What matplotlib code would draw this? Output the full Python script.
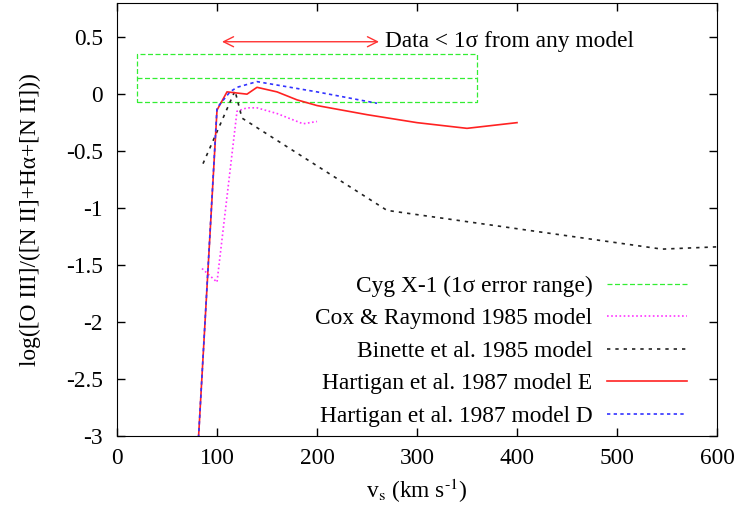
import numpy as np
import matplotlib
matplotlib.use("Agg")
import matplotlib.pyplot as plt

# data (v_s in km/s, log ratio)
cyg_v = [20, 360]
cyg_mid = 0.14
cyg_lo = -0.07
cyg_hi = 0.35

cox_v = [85, 100, 120, 130, 140, 160, 186, 200]
cox_y = [-1.53, -1.65, -0.15, -0.12, -0.12, -0.17, -0.26, -0.24]

bin_v = [86, 118, 125, 270, 545, 600]
bin_y = [-0.61, 0.03, -0.21, -1.02, -1.36, -1.34]

hartE_v = [80, 100, 110, 120, 130, 140, 160, 180, 200, 250, 300, 350, 400]
hartE_y = [-3.25, -0.14, 0.02, 0.01, 0.0, 0.06, 0.02, -0.05, -0.10, -0.18, -0.25, -0.30, -0.25]

hartD_v = [80, 100, 113, 120, 140, 160, 200, 260]
hartD_y = [-3.25, -0.12, 0.02, 0.06, 0.11, 0.08, 0.02, -0.08]

arrow_v = [105, 262]
arrow_y = 0.46

plt.rcParams['font.family'] = ['Liberation Serif', 'DejaVu Serif']
plt.rcParams['mathtext.fontset'] = 'stix'
plt.rcParams['font.size'] = 16.8

fig = plt.figure(figsize=(7.39, 5.16), dpi=100)
ax = fig.add_axes([117/739, 1 - 436/516, 600/739, 433/516])

# Cyg X-1 1 sigma box
ax.plot([cyg_v[0], cyg_v[1], cyg_v[1], cyg_v[0], cyg_v[0]],
        [cyg_lo, cyg_lo, cyg_hi, cyg_hi, cyg_lo],
        color='#33ee33', lw=0.9, ls=(0, (4, 2)), label='Cyg X-1 (1σ error range)')
ax.plot(cyg_v, [cyg_mid, cyg_mid], color='#33ee33', lw=0.9, ls=(0, (4, 2)))

ax.plot(cox_v, cox_y, color='#ff33ff', lw=1.2, ls=(0, (1, 1.5)), label='Cox & Raymond 1985 model')
ax.plot(bin_v, bin_y, color='#222222', lw=1.2, ls=(0, (2, 3)), label='Binette et al. 1985 model')
ax.plot(hartE_v, hartE_y, color='#ff2222', lw=1.2, ls='-', label='Hartigan et al. 1987 model E')
ax.plot(hartD_v, hartD_y, color='#3333ff', lw=1.2, ls=(0, (2, 2)), label='Hartigan et al. 1987 model D')

ax.annotate('', xy=(arrow_v[0], arrow_y), xytext=(arrow_v[1], arrow_y),
            arrowprops=dict(arrowstyle='<->', color='#ff3333', lw=1.0,
                            shrinkA=0, shrinkB=0, mutation_scale=18))
ax.text(arrow_v[1] + 6, arrow_y, 'Data < 1σ from any model', va='center', ha='left')

ax.set_xlim(0, 600)
ax.set_ylim(-3, 0.8)
ax.set_xticks(np.arange(0, 601, 100))
ax.set_yticks(np.arange(-3, 0.51, 0.5))
ax.set_yticklabels(['-3', '-2.5', '-2', '-1.5', '-1', '-0.5', '0', '0.5'])
ax.tick_params(direction='in', top=True, right=True, length=6, width=1)
ax.tick_params(axis='x', pad=9)
ax.tick_params(axis='y', pad=10)

ax.set_xlabel(r'v$_{\rm s}$ (km s$^{\text{-1}}$)', labelpad=5)
ax.set_ylabel('log([O III]/([N II]+Hα+[N II]))', labelpad=18)

leg = ax.legend(loc='lower right', bbox_to_anchor=(1 - 9/600, -12/433),
                frameon=False, markerfirst=False,
                handlelength=3.45, handletextpad=0.6, labelspacing=0.48,
                borderaxespad=0.6, borderpad=0.3)

fig.savefig('out.png', dpi=100)
